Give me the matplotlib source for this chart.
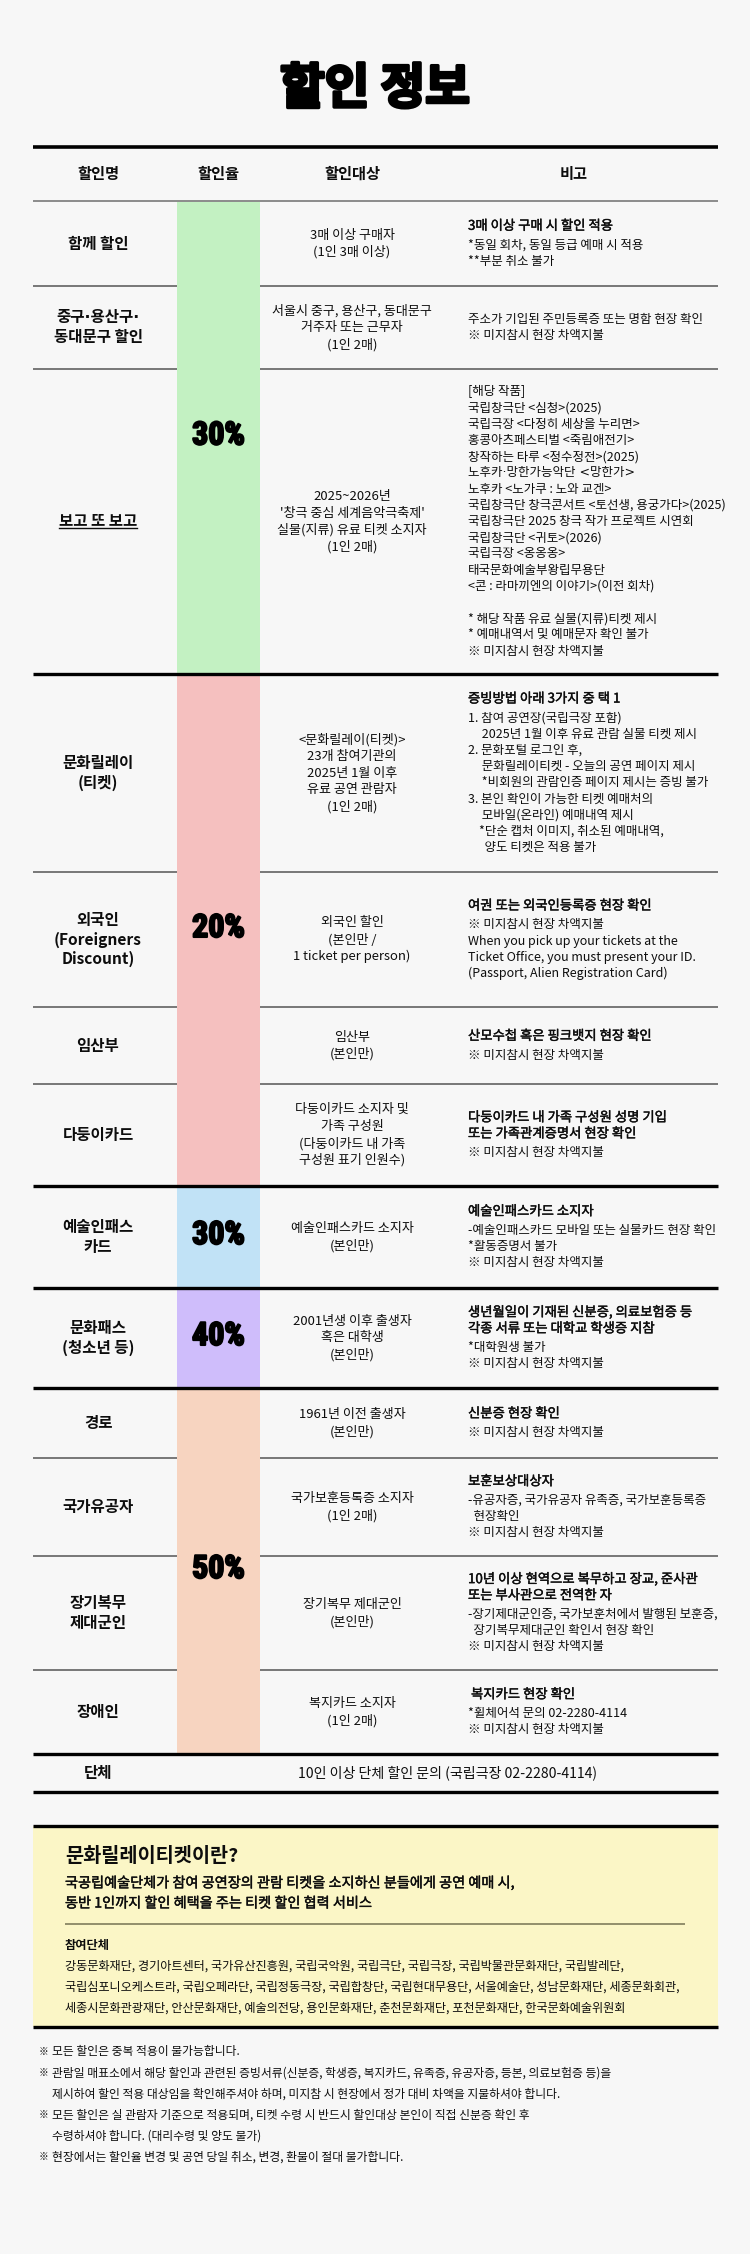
import matplotlib
matplotlib.use("Agg")
import matplotlib.pyplot as plt
import matplotlib.patheffects as pe
from matplotlib import font_manager as fm
from matplotlib.patches import Rectangle

# fonts
names = {f.name for f in fm.fontManager.ttflist}
KR = ['Noto Sans CJK KR', 'DejaVu Sans']
DOT = ['DejaVu Sans', 'Noto Sans CJK KR']   # narrow middle dot
pct_family = 'DejaVu Sans'
for cand in ['Roboto Condensed', 'Liberation Sans Narrow', 'Roboto']:
    if cand in names:
        pct_family = cand
        break
plt.rcParams['font.family'] = KR

# ---- data ----
headers = ["할인명", "할인율", "할인대상", "비고"]

row_names = ["함께 할인", "중구·용산구·\n동대문구 할인", "보고 또 보고", "문화릴레이\n(티켓)",
             "외국인\n(Foreigners\nDiscount)", "임산부", "다둥이카드", "예술인패스\n카드",
             "문화패스\n(청소년 등)", "경로", "국가유공자", "장기복무\n제대군인", "장애인"]

rate_labels = ["30%", "20%", "30%", "40%", "50%"]
rate_spans = [3, 4, 1, 1, 4]
rate_colors = ["#c3f1c2", "#f5c0bf", "#c1e2f6", "#cfbdfb", "#f7d4c0"]

targets = [
    "3매 이상 구매자\n(1인 3매 이상)",
    "서울시 중구, 용산구, 동대문구\n거주자 또는 근무자\n(1인 2매)",
    "2025~2026년\n'창극 중심 세계음악극축제'\n실물(지류) 유료 티켓 소지자\n(1인 2매)",
    "<문화릴레이(티켓)>\n23개 참여기관의\n2025년 1월 이후\n유료 공연 관람자\n(1인 2매)",
    "외국인 할인\n(본인만 /\n1 ticket per person)",
    "임산부\n(본인만)",
    "다둥이카드 소지자 및\n가족 구성원\n(다둥이카드 내 가족\n구성원 표기 인원수)",
    "예술인패스카드 소지자\n(본인만)",
    "2001년생 이후 출생자\n혹은 대학생\n(본인만)",
    "1961년 이전 출생자\n(본인만)",
    "국가보훈등록증 소지자\n(1인 2매)",
    "장기복무 제대군인\n(본인만)",
    "복지카드 소지자\n(1인 2매)",
]

notes = [
    ["3매 이상 구매 시 할인 적용", "*동일 회차, 동일 등급 예매 시 적용", "**부분 취소 불가"],
    ["주소가 기입된 주민등록증 또는 명함 현장 확인", "※ 미지참시 현장 차액지불"],
    ["[해당 작품]", "국립창극단 <심청>(2025)", "국립극장 <다정히 세상을 누리면>",
     "홍콩아츠페스티벌 <죽림애전기>", "창작하는 타루 <정수정전>(2025)",
     "노후카·망한가능악단 <망한가>", "노후카 <노가쿠 : 노와 교겐>",
     "국립창극단 창극콘서트 <토선생, 용궁가다>(2025)", "국립창극단 2025 창극 작가 프로젝트 시연회",
     "국립창극단 <귀토>(2026)", "국립극장 <옹옹옹>", "태국문화예술부왕립무용단",
     "<콘 : 라마끼엔의 이야기>(이전 회차)", "",
     "* 해당 작품 유료 실물(지류)티켓 제시", "* 예매내역서 및 예매문자 확인 불가", "※ 미지참시 현장 차액지불"],
    ["증빙방법 아래 3가지 중 택 1", "1. 참여 공연장(국립극장 포함)",
     "     2025년 1월 이후 유료 관람 실물 티켓 제시", "2. 문화포털 로그인 후,",
     "     문화릴레이티켓 - 오늘의 공연 페이지 제시", "     *비회원의 관람인증 페이지 제시는 증빙 불가",
     "3. 본인 확인이 가능한 티켓 예매처의", "     모바일(온라인) 예매내역 제시",
     "    *단순 캡처 이미지, 취소된 예매내역,", "      양도 티켓은 적용 불가"],
    ["여권 또는 외국인등록증 현장 확인", "※ 미지참시 현장 차액지불", "When you pick up your tickets at the",
     "Ticket Office, you must present your ID.", "(Passport, Alien Registration Card)"],
    ["산모수첩 혹은 핑크뱃지 현장 확인", "※ 미지참시 현장 차액지불"],
    ["다둥이카드 내 가족 구성원 성명 기입", "또는 가족관계증명서 현장 확인", "※ 미지참시 현장 차액지불"],
    ["예술인패스카드 소지자", "-예술인패스카드 모바일 또는 실물카드 현장 확인", "*활동증명서 불가",
     "※ 미지참시 현장 차액지불"],
    ["생년월일이 기재된 신분증, 의료보험증 등", "각종 서류 또는 대학교 학생증 지참", "*대학원생 불가",
     "※ 미지참시 현장 차액지불"],
    ["신분증 현장 확인", "※ 미지참시 현장 차액지불"],
    ["보훈보상대상자", "-유공자증, 국가유공자 유족증, 국가보훈등록증", "  현장확인", "※ 미지참시 현장 차액지불"],
    ["10년 이상 현역으로 복무하고 장교, 준사관", "또는 부사관으로 전역한 자",
     "-장기제대군인증, 국가보훈처에서 발행된 보훈증,", "  장기복무제대군인 확인서 현장 확인",
     "※ 미지참시 현장 차액지불"],
    [" 복지카드 현장 확인", "*휠체어석 문의 02-2280-4114", "※ 미지참시 현장 차액지불"],
]
notes_strong = [1, 0, 0, 1, 1, 1, 2, 1, 2, 1, 1, 2, 1]

group_name = "단체"
group_text = "10인 이상 단체 할인 문의 (국립극장 02-2280-4114)"

info_title = "문화릴레이티켓이란?"
info_body = ["국공립예술단체가 참여 공연장의 관람 티켓을 소지하신 분들에게 공연 예매 시,",
             "동반 1인까지 할인 혜택을 주는 티켓 할인 협력 서비스"]
info_sub = "참여단체"
info_orgs = ["강동문화재단, 경기아트센터, 국가유산진흥원, 국립국악원, 국립극단, 국립극장, 국립박물관문화재단, 국립발레단,",
             "국립심포니오케스트라, 국립오페라단, 국립정동극장, 국립합창단, 국립현대무용단, 서울예술단, 성남문화재단, 세종문화회관,",
             "세종시문화관광재단, 안산문화재단, 예술의전당, 용인문화재단, 춘천문화재단, 포천문화재단, 한국문화예술위원회"]

footnotes = [
    ["모든 할인은 중복 적용이 불가능합니다."],
    ["관람일 매표소에서 해당 할인과 관련된 증빙서류(신분증, 학생증, 복지카드, 유족증, 유공자증, 등본, 의료보험증 등)을",
     "제시하여 할인 적용 대상임을 확인해주셔야 하며, 미지참 시 현장에서 정가 대비 차액을 지불하셔야 합니다."],
    ["모든 할인은 실 관람자 기준으로 적용되며, 티켓 수령 시 반드시 할인대상 본인이 직접 신분증 확인 후",
     "수령하셔야 합니다. (대리수령 및 양도 불가)"],
    ["현장에서는 할인율 변경 및 공연 당일 취소, 변경, 환불이 절대 불가합니다."],
]

# ---- layout ----
row_edges = [201, 286, 369, 674, 872, 1007, 1084, 1186, 1288, 1388, 1458, 1556, 1670, 1754]
X0, X1 = 33, 718
C1, C2 = 177, 260
col_centers = [98, 218, 352, 574]
NOTE_X = 468
BG = "#f7f7f7"
INK = "#0d0d0d"

fig = plt.figure(figsize=(7.5, 22.54), dpi=100, facecolor=BG)
ax = fig.add_axes([0, 0, 1, 1])
ax.set_xlim(0, 750)
ax.set_ylim(2254, 0)
ax.axis('off')
ax.set_facecolor(BG)

semi = [pe.withStroke(linewidth=0.3, foreground=INK)]


def lines_at(x, yc, lines, spacing, ha='left', sizes=None, weights=None, strong=0, gap=0):
    n = len(lines)
    total = (n - 1) * spacing + (gap if strong else 0)
    y = yc - total / 2
    for i, s in enumerate(lines):
        fam = DOT if '·' in s else KR
        ax.text(x, y, s, ha=ha, va='center', fontsize=sizes[i], fontweight=weights[i],
                family=fam, color=INK, zorder=5, path_effects=semi if i < strong else None)
        y += spacing
        if strong and i == strong - 1:
            y += gap


# title
ax.text(375, 89, "할인 정보", ha='center', va='center', fontsize=35, fontweight='black',
        color='black', path_effects=[pe.withStroke(linewidth=2.4, foreground='black')])

# top rule and header
ax.plot([X0, X1], [147, 147], color='black', lw=2.6, solid_capstyle='butt', zorder=6)
for h, cx in zip(headers, col_centers):
    ax.text(cx, 174, h, ha='center', va='center', fontsize=11, fontweight='bold', color=INK)
ax.plot([X0, X1], [201, 201], color='#8c8c8c', lw=1.4, solid_capstyle='butt', zorder=6)

# rate column fills and labels
start = 0
group_ends = []
for lab, span, colr in zip(rate_labels, rate_spans, rate_colors):
    top, bot = row_edges[start], row_edges[start + span]
    ax.add_patch(Rectangle((C1, top), C2 - C1, bot - top, color=colr, lw=0, zorder=1))
    ax.text((C1 + C2) / 2, (top + bot) / 2 - 2, lab, ha='center', va='center', fontsize=23,
            fontweight='bold', family=pct_family, color='black', zorder=5,
            path_effects=[pe.withStroke(linewidth=1.5, foreground='black')])
    start += span
    group_ends.append(start)

# row separators
for i in range(1, len(row_edges)):
    y = row_edges[i]
    if i in group_ends:
        ax.plot([X0, X1], [y, y], color='black', lw=2.4, solid_capstyle='butt', zorder=6)
    else:
        ax.plot([X0, C1], [y, y], color='#555555', lw=1.1, solid_capstyle='butt', zorder=6)
        ax.plot([C2, X1], [y, y], color='#555555', lw=1.1, solid_capstyle='butt', zorder=6)

# row contents
for i in range(len(row_names)):
    top, bot = row_edges[i], row_edges[i + 1]
    yc = (top + bot) / 2
    nl = row_names[i].split("\n")
    lines_at(col_centers[0], yc, nl, 19.5, ha='center', sizes=[11.2] * len(nl), weights=['bold'] * len(nl))
    tl = targets[i].split("\n")
    lines_at(col_centers[2], yc, tl, 16.8, ha='center', sizes=[9.4] * len(tl), weights=['normal'] * len(tl))
    nt = notes[i]
    k = notes_strong[i]
    sizes = [9.6 if j < k else 9.0 for j in range(len(nt))]
    weights = ['medium' if j < k else 'normal' for j in range(len(nt))]
    lines_at(NOTE_X, yc, nt, 16.2, sizes=sizes, weights=weights, strong=k, gap=3)

# underline under 보고 또 보고
fig.canvas.draw()
r = fig.canvas.get_renderer()
for t in ax.texts:
    if t.get_text() == "보고 또 보고":
        bb = t.get_window_extent(r).transformed(ax.transData.inverted())
        yb = max(bb.y0, bb.y1) - 1.5
        ax.plot([bb.x0, bb.x1], [yb, yb], color=INK, lw=1.0)

# group row
ax.text(col_centers[0], 1773, group_name, ha='center', va='center', fontsize=11.2, fontweight='bold', color=INK)
ax.text((C1 + X1) / 2, 1773, group_text, ha='center', va='center', fontsize=10.1, color=INK)
ax.plot([X0, X1], [1792, 1792], color='black', lw=2.4, solid_capstyle='butt', zorder=6)

# info box
ax.add_patch(Rectangle((X0, 1826), X1 - X0, 2027 - 1826, color='#fbf6c6', lw=0, zorder=1))
ax.plot([X0, X1], [1826, 1826], color='black', lw=2.4, solid_capstyle='butt', zorder=6)
ax.plot([X0, X1], [2027, 2027], color='black', lw=2.4, solid_capstyle='butt', zorder=6)
ax.text(65, 1856, info_title, ha='left', va='center', fontsize=14.2, fontweight='bold', color=INK)
for j, s in enumerate(info_body):
    ax.text(65, 1883 + j * 20.5, s, ha='left', va='center', fontsize=10.2, fontweight='medium',
            color=INK, path_effects=semi)
ax.plot([65, 685], [1924, 1924], color='#8a8764', lw=1.3, solid_capstyle='butt')
ax.text(65, 1945, info_sub, ha='left', va='center', fontsize=8.8, fontweight='bold', color=INK)
for j, s in enumerate(info_orgs):
    ax.text(65, 1966 + j * 21, s, ha='left', va='center', fontsize=8.75, color=INK)

# footnotes
y = 2052
for fn in footnotes:
    ax.text(43, y, "※", ha='center', va='center', fontsize=7, color=INK)
    for s in fn:
        ax.text(52, y, s, ha='left', va='center', fontsize=8.5, color=INK)
        y += 21

fig.savefig("out.png", dpi=100, facecolor=BG)
